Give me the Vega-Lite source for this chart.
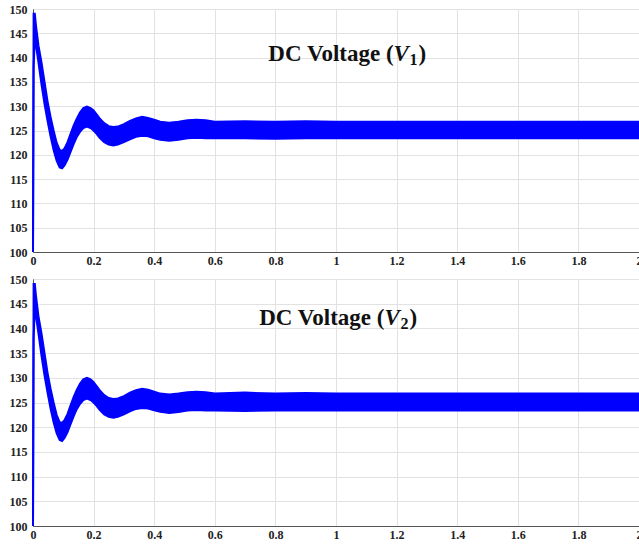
{
  "$schema": "https://vega.github.io/schema/vega-lite/v6.json",
  "padding": {"left": 8, "top": 2, "right": 0, "bottom": 0},
  "spacing": 5,
  "background": "white",
  "datasets": {
    "v1": [
      {"t": 0, "lo": 100, "hi": 100},
      {"t": 0.002, "lo": 138, "hi": 149},
      {"t": 0.006, "lo": 144, "hi": 149},
      {"t": 0.010, "lo": 142.5, "hi": 146.5},
      {"t": 0.018, "lo": 139, "hi": 142.5},
      {"t": 0.028, "lo": 134.5, "hi": 139},
      {"t": 0.038, "lo": 130.5, "hi": 135},
      {"t": 0.048, "lo": 127, "hi": 131},
      {"t": 0.058, "lo": 123.8, "hi": 127.8},
      {"t": 0.068, "lo": 121, "hi": 125},
      {"t": 0.078, "lo": 118.8, "hi": 122.5},
      {"t": 0.088, "lo": 117.4, "hi": 121},
      {"t": 0.096, "lo": 117.2, "hi": 120.8},
      {"t": 0.104, "lo": 117.8, "hi": 121.3},
      {"t": 0.114, "lo": 119, "hi": 122.6},
      {"t": 0.124, "lo": 120.6, "hi": 124.3},
      {"t": 0.134, "lo": 122.2, "hi": 126},
      {"t": 0.144, "lo": 123.6, "hi": 127.4},
      {"t": 0.155, "lo": 124.7, "hi": 128.7},
      {"t": 0.166, "lo": 125.5, "hi": 129.6},
      {"t": 0.178, "lo": 125.8, "hi": 129.9},
      {"t": 0.19, "lo": 125.5, "hi": 129.6},
      {"t": 0.2, "lo": 125, "hi": 129.1},
      {"t": 0.21, "lo": 124.3, "hi": 128.3},
      {"t": 0.22, "lo": 123.5, "hi": 127.5},
      {"t": 0.235, "lo": 122.6, "hi": 126.5},
      {"t": 0.25, "lo": 122.1, "hi": 125.9},
      {"t": 0.265, "lo": 121.9, "hi": 125.7},
      {"t": 0.28, "lo": 122.1, "hi": 125.8},
      {"t": 0.3, "lo": 122.6, "hi": 126.3},
      {"t": 0.32, "lo": 123.2, "hi": 127},
      {"t": 0.34, "lo": 123.7, "hi": 127.5},
      {"t": 0.36, "lo": 123.9, "hi": 127.8},
      {"t": 0.38, "lo": 123.8, "hi": 127.6},
      {"t": 0.4, "lo": 123.4, "hi": 127.2},
      {"t": 0.42, "lo": 123.1, "hi": 126.8},
      {"t": 0.45, "lo": 122.9, "hi": 126.6},
      {"t": 0.48, "lo": 123.1, "hi": 126.8},
      {"t": 0.51, "lo": 123.4, "hi": 127.1},
      {"t": 0.54, "lo": 123.5, "hi": 127.2},
      {"t": 0.57, "lo": 123.4, "hi": 127.1},
      {"t": 0.6, "lo": 123.4, "hi": 126.8},
      {"t": 0.7, "lo": 123.4, "hi": 126.9},
      {"t": 0.8, "lo": 123.3, "hi": 126.8},
      {"t": 0.9, "lo": 123.4, "hi": 126.9},
      {"t": 1.0, "lo": 123.4, "hi": 126.8},
      {"t": 1.2, "lo": 123.4, "hi": 126.8},
      {"t": 1.4, "lo": 123.4, "hi": 126.8},
      {"t": 1.6, "lo": 123.4, "hi": 126.8},
      {"t": 1.8, "lo": 123.4, "hi": 126.8},
      {"t": 2.0, "lo": 123.4, "hi": 126.8}
    ],
    "v2": [
      {"t": 0, "lo": 100, "hi": 100},
      {"t": 0.002, "lo": 138, "hi": 149},
      {"t": 0.006, "lo": 144, "hi": 149},
      {"t": 0.010, "lo": 142.5, "hi": 146.5},
      {"t": 0.018, "lo": 139, "hi": 142.5},
      {"t": 0.028, "lo": 134.5, "hi": 139},
      {"t": 0.038, "lo": 130.5, "hi": 135},
      {"t": 0.048, "lo": 127, "hi": 131},
      {"t": 0.058, "lo": 123.8, "hi": 127.8},
      {"t": 0.068, "lo": 121, "hi": 125},
      {"t": 0.078, "lo": 118.8, "hi": 122.5},
      {"t": 0.088, "lo": 117.4, "hi": 121},
      {"t": 0.096, "lo": 117.2, "hi": 120.9},
      {"t": 0.104, "lo": 117.8, "hi": 121.4},
      {"t": 0.114, "lo": 119, "hi": 122.7},
      {"t": 0.124, "lo": 120.6, "hi": 124.4},
      {"t": 0.134, "lo": 122.2, "hi": 126.1},
      {"t": 0.144, "lo": 123.6, "hi": 127.5},
      {"t": 0.155, "lo": 124.7, "hi": 128.8},
      {"t": 0.166, "lo": 125.5, "hi": 129.7},
      {"t": 0.178, "lo": 125.8, "hi": 130},
      {"t": 0.19, "lo": 125.5, "hi": 129.7},
      {"t": 0.2, "lo": 125, "hi": 129.1},
      {"t": 0.21, "lo": 124.3, "hi": 128.3},
      {"t": 0.22, "lo": 123.5, "hi": 127.5},
      {"t": 0.235, "lo": 122.6, "hi": 126.5},
      {"t": 0.25, "lo": 122.1, "hi": 125.9},
      {"t": 0.265, "lo": 121.9, "hi": 125.7},
      {"t": 0.28, "lo": 122.1, "hi": 125.8},
      {"t": 0.3, "lo": 122.6, "hi": 126.3},
      {"t": 0.32, "lo": 123.2, "hi": 127},
      {"t": 0.34, "lo": 123.7, "hi": 127.5},
      {"t": 0.36, "lo": 123.9, "hi": 127.8},
      {"t": 0.38, "lo": 123.8, "hi": 127.6},
      {"t": 0.4, "lo": 123.4, "hi": 127.2},
      {"t": 0.42, "lo": 123.1, "hi": 126.8},
      {"t": 0.45, "lo": 122.9, "hi": 126.6},
      {"t": 0.48, "lo": 123.1, "hi": 126.8},
      {"t": 0.51, "lo": 123.4, "hi": 127.1},
      {"t": 0.54, "lo": 123.5, "hi": 127.2},
      {"t": 0.57, "lo": 123.4, "hi": 127.1},
      {"t": 0.6, "lo": 123.4, "hi": 126.8},
      {"t": 0.7, "lo": 123.3, "hi": 127.0},
      {"t": 0.8, "lo": 123.4, "hi": 126.8},
      {"t": 0.9, "lo": 123.4, "hi": 126.9},
      {"t": 1.0, "lo": 123.4, "hi": 126.8},
      {"t": 1.2, "lo": 123.4, "hi": 126.8},
      {"t": 1.4, "lo": 123.4, "hi": 126.8},
      {"t": 1.6, "lo": 123.4, "hi": 126.8},
      {"t": 1.8, "lo": 123.4, "hi": 126.8},
      {"t": 2.0, "lo": 123.4, "hi": 126.8}
    ]
  },
  "config": {
    "view": {"stroke": "#555555", "strokeWidth": 1},
    "font": "Liberation Serif",
    "axis": {
      "labelFont": "Liberation Serif",
      "labelFontWeight": "bold",
      "labelFontSize": 12,
      "labelColor": "#222222",
      "labelOverlap": false,
      "labelFlush": false,
      "gridColor": "#e2e2e2",
      "gridWidth": 1,
      "domainColor": "#555555",
      "ticks": false,
      "title": null
    },
    "axisX": {"labelPadding": 3},
    "axisY": {"labelPadding": 6}
  },
  "vconcat": [
    {
      "width": 606,
      "height": 243,
      "encoding": {
        "x": {"type": "quantitative", "scale": {"domain": [0, 2], "nice": false},
          "axis": {"values": [0, 0.2, 0.4, 0.6, 0.8, 1, 1.2, 1.4, 1.6, 1.8, 2], "format": "~g"}},
        "y": {"type": "quantitative", "scale": {"domain": [100, 150], "nice": false},
          "axis": {"values": [100, 105, 110, 115, 120, 125, 130, 135, 140, 145, 150]}}
      },
      "layer": [
        {
          "data": {"name": "v1"},
          "mark": {"type": "area", "color": "#0000ff", "opacity": 1},
          "encoding": {"x": {"field": "t"}, "y": {"field": "lo"}, "y2": {"field": "hi"}}
        },
        {
          "data": {"name": "v1"},
          "mark": {"type": "line", "color": "#0000ff", "strokeWidth": 2},
          "encoding": {"x": {"field": "t"}, "y": {"field": "hi"}}
        },
        {
          "data": {"name": "v1"},
          "mark": {"type": "line", "color": "#0000ff", "strokeWidth": 2},
          "encoding": {"x": {"field": "t"}, "y": {"field": "lo"}}
        },
        {
          "data": {"values": [{}]},
          "mark": {"type": "text", "text": "DC Voltage (", "font": "Liberation Serif", "fontWeight": "bold", "fontSize": 23, "align": "right", "baseline": "alphabetic", "color": "#111111"},
          "encoding": {"x": {"datum": 1.19}, "y": {"datum": 139.3}}
        },
        {
          "data": {"values": [{}]},
          "mark": {"type": "text", "text": "V", "font": "Liberation Serif", "fontWeight": "bold", "fontStyle": "italic", "fontSize": 23, "align": "left", "baseline": "alphabetic", "color": "#111111", "dx": 0},
          "encoding": {"x": {"datum": 1.19}, "y": {"datum": 139.3}}
        },
        {
          "data": {"values": [{}]},
          "mark": {"type": "text", "text": "1", "font": "Liberation Serif", "fontWeight": "bold", "fontSize": 16, "align": "left", "baseline": "alphabetic", "color": "#111111", "dx": 16, "dy": 4},
          "encoding": {"x": {"datum": 1.19}, "y": {"datum": 139.3}}
        },
        {
          "data": {"values": [{}]},
          "mark": {"type": "text", "text": ")", "font": "Liberation Serif", "fontWeight": "bold", "fontSize": 23, "align": "left", "baseline": "alphabetic", "color": "#111111", "dx": 25},
          "encoding": {"x": {"datum": 1.19}, "y": {"datum": 139.3}}
        }
      ]
    },
    {
      "width": 606,
      "height": 247,
      "encoding": {
        "x": {"type": "quantitative", "scale": {"domain": [0, 2], "nice": false},
          "axis": {"values": [0, 0.2, 0.4, 0.6, 0.8, 1, 1.2, 1.4, 1.6, 1.8, 2], "format": "~g"}},
        "y": {"type": "quantitative", "scale": {"domain": [100, 150], "nice": false},
          "axis": {"values": [100, 105, 110, 115, 120, 125, 130, 135, 140, 145, 150]}}
      },
      "layer": [
        {
          "data": {"name": "v2"},
          "mark": {"type": "area", "color": "#0000ff", "opacity": 1},
          "encoding": {"x": {"field": "t"}, "y": {"field": "lo"}, "y2": {"field": "hi"}}
        },
        {
          "data": {"name": "v2"},
          "mark": {"type": "line", "color": "#0000ff", "strokeWidth": 2},
          "encoding": {"x": {"field": "t"}, "y": {"field": "hi"}}
        },
        {
          "data": {"name": "v2"},
          "mark": {"type": "line", "color": "#0000ff", "strokeWidth": 2},
          "encoding": {"x": {"field": "t"}, "y": {"field": "lo"}}
        },
        {
          "data": {"values": [{}]},
          "mark": {"type": "text", "text": "DC Voltage (", "font": "Liberation Serif", "fontWeight": "bold", "fontSize": 23, "align": "right", "baseline": "alphabetic", "color": "#111111"},
          "encoding": {"x": {"datum": 1.16}, "y": {"datum": 140.7}}
        },
        {
          "data": {"values": [{}]},
          "mark": {"type": "text", "text": "V", "font": "Liberation Serif", "fontWeight": "bold", "fontStyle": "italic", "fontSize": 23, "align": "left", "baseline": "alphabetic", "color": "#111111", "dx": 0},
          "encoding": {"x": {"datum": 1.16}, "y": {"datum": 140.7}}
        },
        {
          "data": {"values": [{}]},
          "mark": {"type": "text", "text": "2", "font": "Liberation Serif", "fontWeight": "bold", "fontSize": 16, "align": "left", "baseline": "alphabetic", "color": "#111111", "dx": 16, "dy": 4},
          "encoding": {"x": {"datum": 1.16}, "y": {"datum": 140.7}}
        },
        {
          "data": {"values": [{}]},
          "mark": {"type": "text", "text": ")", "font": "Liberation Serif", "fontWeight": "bold", "fontSize": 23, "align": "left", "baseline": "alphabetic", "color": "#111111", "dx": 25},
          "encoding": {"x": {"datum": 1.16}, "y": {"datum": 140.7}}
        }
      ]
    }
  ]
}
